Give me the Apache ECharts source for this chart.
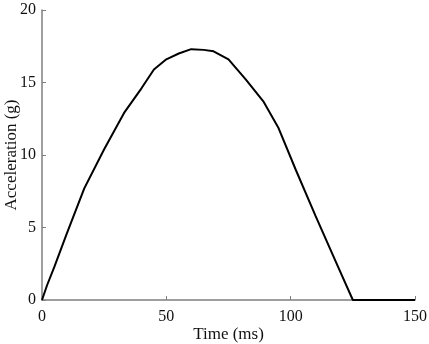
<!DOCTYPE html>
<html>
<head>
<meta charset="utf-8">
<script src="https://cdn.jsdelivr.net/npm/echarts@6/dist/echarts.min.js"></script>
<style>
  html, body { margin: 0; padding: 0; background: #fff; }
  #chart { width: 429px; height: 344px; }
</style>
</head>
<body>
<div id="chart"></div>
<script>
// time in ms, acceleration in g
const times = [0, 2, 5, 10, 17, 25, 33, 40, 45, 50, 55, 60, 65, 69, 75, 82, 89, 95, 102, 110, 118, 125, 150];
const accel = [0, 1.0, 2.3, 4.6, 7.7, 10.4, 12.9, 14.6, 15.9, 16.6, 17.0, 17.3, 17.25, 17.15, 16.6, 15.2, 13.7, 11.9, 9.0, 5.8, 2.7, 0, 0];
const xTicks = [0, 50, 100, 150];
const yTicks = [0, 5, 10, 15, 20];

const font = '"Liberation Serif", "DejaVu Serif", serif';
const axisGray = '#7f7f7f';

const chart = echarts.init(document.getElementById('chart'));
chart.setOption({
    animation: false,
    grid: { left: 42, right: 14, top: 10, bottom: 44, outerBoundsMode: 'none', containLabel: false },
    xAxis: {
        type: 'value',
        min: xTicks[0],
        max: xTicks[xTicks.length - 1],
        interval: 50,
        name: 'Time (ms)',
        nameLocation: 'middle',
        nameGap: 26,
        nameMoveOverlap: false,
        nameTextStyle: { fontFamily: font, fontSize: 17, color: '#111' },
        axisLine: { lineStyle: { color: axisGray, width: 1.5 } },
        axisTick: { inside: true, length: 4, lineStyle: { color: axisGray } },
        axisLabel: { fontFamily: font, fontSize: 16, color: '#111', margin: 9 },
        splitLine: { show: false }
    },
    yAxis: {
        type: 'value',
        min: yTicks[0],
        max: yTicks[yTicks.length - 1],
        interval: 5,
        name: 'Acceleration (g)',
        nameLocation: 'middle',
        nameGap: 22,
        nameMoveOverlap: false,
        nameTextStyle: { fontFamily: font, fontSize: 17, color: '#111' },
        axisLine: { show: true, lineStyle: { color: axisGray, width: 1.5 } },
        axisTick: { show: true, inside: true, length: 4, lineStyle: { color: axisGray } },
        axisLabel: { fontFamily: font, fontSize: 16, color: '#111', margin: 6 },
        splitLine: { show: false }
    },
    series: [{
        type: 'line',
        data: times.map((t, i) => [t, accel[i]]),
        showSymbol: false,
        lineStyle: { color: '#000', width: 2 },
        z: 3
    }]
});
</script>
</body>
</html>
